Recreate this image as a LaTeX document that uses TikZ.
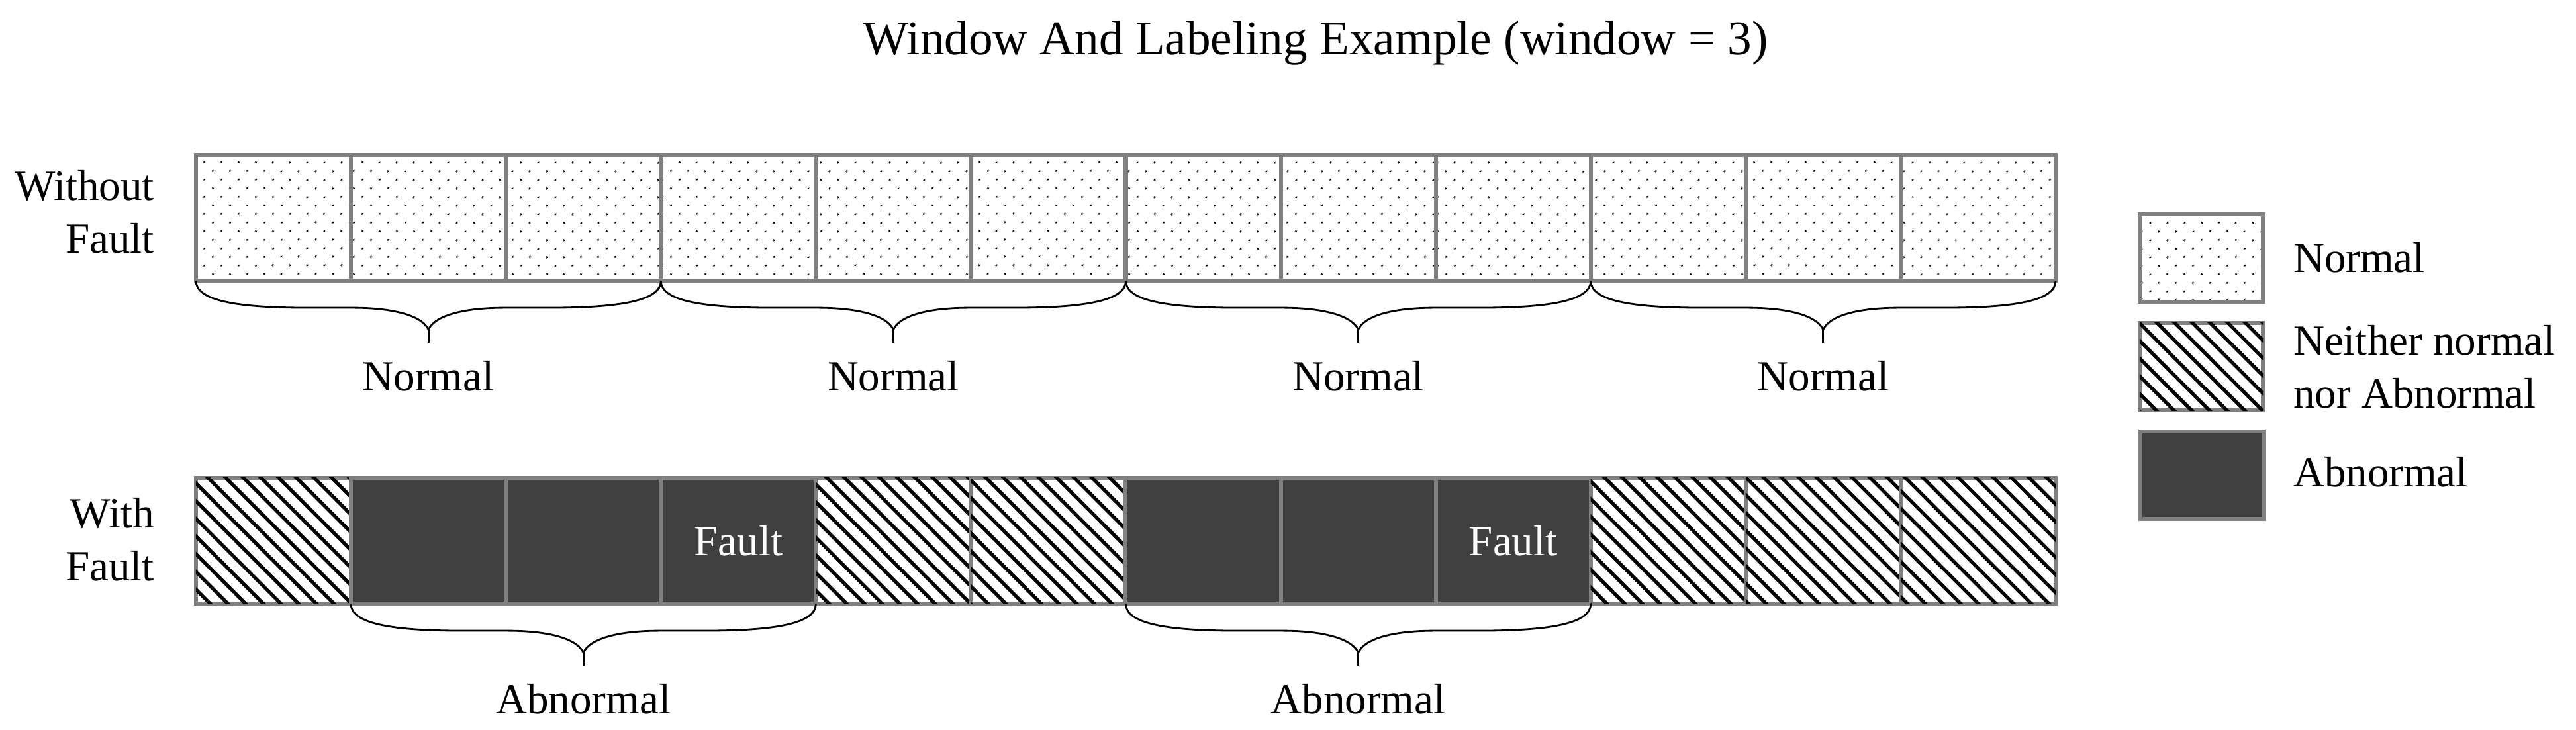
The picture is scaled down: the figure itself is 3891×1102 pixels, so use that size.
\documentclass[tikz,border=0pt]{standalone}
\usepackage{fontspec}
\setmainfont{Liberation Serif}
\usetikzlibrary{patterns.meta,calc}
\definecolor{cellline}{RGB}{128,128,128}
\definecolor{darkcell}{RGB}{64,64,64}
\tikzset{
  cell/.style={draw=cellline, line width=1.7pt, minimum width=2.3408cm, minimum height=1.9cm, inner sep=0pt, outer sep=0pt},
  ncell/.style={cell, pattern={Dots[distance=5.35pt,radius=0.45pt,angle=45]}},
  hcell/.style={cell, fill=white, postaction={pattern={Lines[angle=-45,distance=5.37pt,line width=1.5pt]}}},
  dcell/.style={cell, fill=darkcell},
  legbox/.style={minimum width=1.86cm, minimum height=1.32cm},
  txt/.style={font=\fontsize{18.5}{22.8}\selectfont, inner sep=0pt, outer sep=0pt},
  bracestyle/.style={draw=black, line width=0.8pt},
}
\newcommand\bracebelow[4]{%
  \coordinate (bm) at ($(#1)!0.5!(#2)$);
  \draw[bracestyle] (#1) .. controls ($(#1)+(0,30)$) and ($(#1)+(60,41)$) .. ($(#1)+(170,41)$)
    -- ($(bm)+(-115,41)$) .. controls ($(bm)+(-55,41)$) and ($(bm)+(-10,52)$) .. ($(bm)+(0,74)$)
    .. controls ($(bm)+(10,52)$) and ($(bm)+(55,41)$) .. ($(bm)+(115,41)$)
    -- ($(#2)+(-170,41)$) .. controls ($(#2)+(-60,41)$) and ($(#2)+(0,30)$) .. (#2);
  \draw[bracestyle] ($(bm)+(0,74)$) -- ($(bm)+(0,94)$);
  \node[txt, anchor=base] (#3) at ($(bm)+(0,166)$) {#4};
}
\begin{document}
\begin{tikzpicture}[x=0.01cm, y=-0.01cm]
\useasboundingbox (0,0) rectangle (3891,1102);
% title
\node[font=\fontsize{20.8}{25}\selectfont, inner sep=0pt, anchor=base] (title) at (1987,82) {Window And Labeling Example (window = 3)};
% row labels
\node[txt, align=right, anchor=east] (lwo) at (233,320) {Without\\Fault};
\node[txt, align=right, anchor=east] (lw) at (233,815) {With\\Fault};
% top row
\foreach \i in {0,...,11} {
  \node[ncell] (t\i) at ({413.04+234.08*\i},329) {};
}
% bottom row
\foreach \i/\s in {0/hcell,1/dcell,2/dcell,3/dcell,4/hcell,5/hcell,6/dcell,7/dcell,8/dcell,9/hcell,10/hcell,11/hcell} {
  \node[\s] (b\i) at ({413.04+234.08*\i},817) {};
}
\node[txt, text=white] (f1) at (b3) {Fault};
\node[txt, text=white] (f2) at (b8) {Fault};
% braces
\bracebelow{t0.south west}{t2.south east}{n1}{Normal}
\bracebelow{t3.south west}{t5.south east}{n2}{Normal}
\bracebelow{t6.south west}{t8.south east}{n3}{Normal}
\bracebelow{t9.south west}{t11.south east}{n4}{Normal}
\bracebelow{b1.south west}{b3.south east}{a1}{Abnormal}
\bracebelow{b6.south west}{b8.south east}{a2}{Abnormal}
% legend
\node[ncell, legbox] (lg1) at (3325,390) {};
\node[hcell, legbox] (lg2) at (3325,554) {};
\node[dcell, legbox] (lg3) at (3326,718) {};
\node[txt, anchor=base west] (lt1) at (3464,411) {Normal};
\node[txt, anchor=west, align=left] (lt2) at (3464,554) {Neither normal\\nor Abnormal};
\node[txt, anchor=base west] (lt3) at (3464,735) {Abnormal};
\end{tikzpicture}
\end{document}
